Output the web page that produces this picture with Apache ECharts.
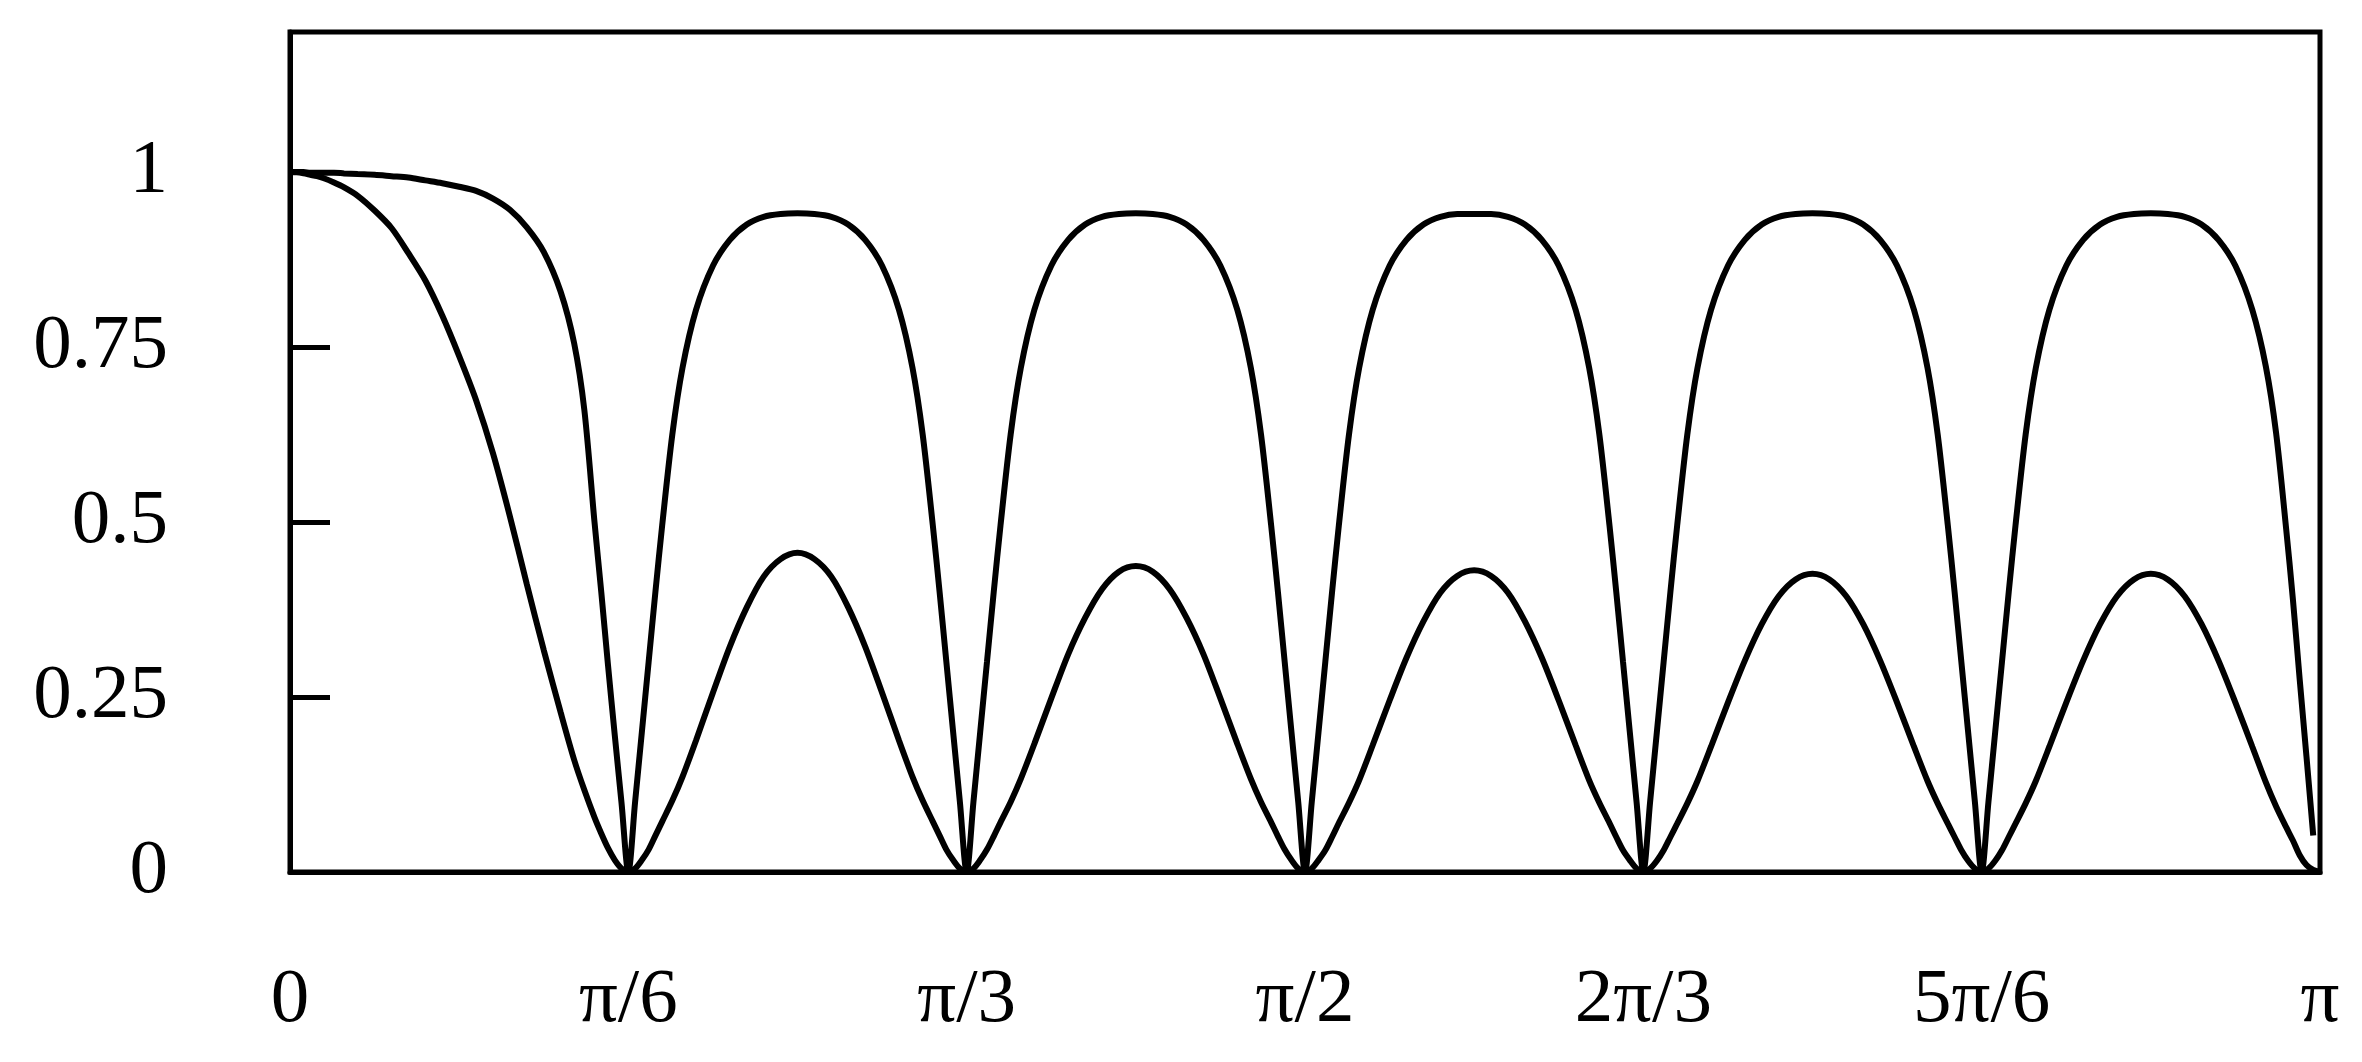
<!DOCTYPE html>
<html>
<head>
<meta charset="utf-8">
<script src="https://cdn.jsdelivr.net/npm/echarts@6/dist/echarts.min.js"></script>
<style>
html,body{margin:0;padding:0;background:#fff;}
#chart{width:2362px;height:1062px;}
</style>
</head>
<body>
<div id="chart"></div>
<script>
// x positions are in units of pi/6
const xTickLabels = ['0', 'π/6', 'π/3', 'π/2', '2π/3', '5π/6', 'π'];
const yTickLabels = ['0', '0.25', '0.5', '0.75', '1'];
const sampleOffsets = [0, 0.02, 0.04, 0.06, 0.08, 0.10, 0.13, 0.16, 0.20, 0.25, 0.30, 0.35, 0.40, 0.45,
  0.50, 0.55, 0.60, 0.65, 0.70, 0.75, 0.80, 0.84, 0.87, 0.90, 0.92, 0.94, 0.96, 0.98];

// upper curve (narrow dips), one row per pi/6 interval
const upperY = [
  1.000,1.000,1.000,0.999,0.999,0.999,0.999,0.998,0.997,0.996,0.994,0.992,0.988,0.984,0.979,0.973,0.962,0.946,0.921,0.886,0.829,0.755,0.660,0.500,0.400,0.295,0.195,0.098,
  0,0.100,0.200,0.300,0.400,0.495,0.625,0.720,0.803,0.866,0.903,0.925,0.936,0.940,0.941,0.940,0.936,0.925,0.903,0.866,0.803,0.720,0.625,0.495,0.400,0.300,0.200,0.100,
  0,0.100,0.200,0.300,0.400,0.495,0.625,0.720,0.803,0.866,0.903,0.925,0.936,0.940,0.941,0.940,0.936,0.925,0.903,0.866,0.803,0.720,0.625,0.495,0.400,0.300,0.200,0.100,
  0,0.100,0.200,0.300,0.400,0.495,0.625,0.720,0.803,0.866,0.903,0.925,0.936,0.940,0.940,0.940,0.936,0.925,0.903,0.866,0.803,0.720,0.625,0.495,0.400,0.300,0.200,0.100,
  0,0.100,0.200,0.300,0.400,0.495,0.625,0.720,0.803,0.866,0.903,0.925,0.936,0.940,0.941,0.940,0.936,0.925,0.903,0.866,0.803,0.720,0.625,0.495,0.400,0.300,0.200,0.100,
  0,0.100,0.200,0.300,0.400,0.495,0.625,0.720,0.803,0.866,0.903,0.925,0.936,0.940,0.941,0.940,0.936,0.925,0.903,0.866,0.803,0.722,0.628,0.490,0.389,0.275,0.165,0.052
];

// lower curve (rounded lobes)
const lowerY = [
  1.000,0.9995,0.998,0.996,0.994,0.991,0.985,0.978,0.966,0.945,0.920,0.884,0.845,0.795,0.737,0.674,0.598,0.508,0.411,0.317,0.228,0.160,0.117,0.078,0.055,0.034,0.017,0.005,
  0,0.005,0.017,0.032,0.052,0.072,0.102,0.136,0.188,0.256,0.322,0.378,0.422,0.447,0.456,0.447,0.422,0.378,0.322,0.256,0.188,0.136,0.102,0.072,0.052,0.032,0.017,0.005,
  0,0.005,0.017,0.032,0.051,0.071,0.100,0.133,0.183,0.248,0.311,0.363,0.404,0.429,0.437,0.429,0.404,0.363,0.311,0.248,0.183,0.133,0.100,0.071,0.051,0.032,0.017,0.005,
  0,0.005,0.017,0.031,0.050,0.070,0.099,0.131,0.181,0.245,0.306,0.358,0.399,0.423,0.431,0.423,0.399,0.358,0.306,0.245,0.181,0.131,0.099,0.070,0.050,0.031,0.017,0.005,
  0,0.005,0.016,0.031,0.050,0.069,0.098,0.130,0.179,0.242,0.302,0.354,0.394,0.418,0.426,0.418,0.394,0.354,0.302,0.242,0.179,0.130,0.098,0.069,0.050,0.031,0.016,0.005,
  0,0.005,0.016,0.031,0.050,0.069,0.098,0.130,0.179,0.242,0.302,0.354,0.394,0.418,0.426,0.418,0.394,0.354,0.302,0.242,0.179,0.128,0.094,0.064,0.045,0.024,0.010,0.003,
  0
];

const xs = [];
for (let k = 0; k < 6; k++) {
  for (const o of sampleOffsets) xs.push(+(k + o).toFixed(4));
}
xs.push(6);

const upperData = upperY.map((y, i) => [xs[i], y]);
const lowerData = lowerY.map((y, i) => [xs[i], y]);

const font = 'Liberation Serif';
const chart = echarts.init(document.getElementById('chart'), null, {renderer: 'canvas'});
chart.setOption({
  backgroundColor: '#ffffff',
  animation: false,
  grid: {
    left: 290, right: 42, top: 32, bottom: 190,
    show: true, borderColor: '#000', borderWidth: 5,
    containLabel: false, outerBoundsMode: 'none'
  },
  xAxis: {
    type: 'value', min: 0, max: 6, interval: 1,
    axisLine: {show: true, lineStyle: {color: '#000', width: 5}},
    axisTick: {show: false},
    splitLine: {show: false},
    axisLabel: {
      margin: 90, color: '#000', fontFamily: font, fontSize: 77,
      formatter: v => xTickLabels[Math.round(v)] ?? ''
    }
  },
  yAxis: {
    type: 'value', min: 0, max: 1.2, interval: 0.25,
    axisLine: {show: true, lineStyle: {color: '#000', width: 5}},
    axisTick: {show: true, inside: true, length: 40, lineStyle: {color: '#000', width: 5}},
    splitLine: {show: false},
    axisLabel: {
      margin: 122, color: '#000', fontFamily: font, fontSize: 77,
      padding: [0, 0, 20, 0], showMaxLabel: false,
      formatter: v => {
        const i = Math.round(v / 0.25);
        return Math.abs(v - i * 0.25) < 1e-6 && i < yTickLabels.length ? yTickLabels[i] : '';
      }
    }
  },
  series: [
    {type: 'line', data: upperData, showSymbol: false, smooth: 0.3,
     lineStyle: {color: '#000', width: 6}, z: 3},
    {type: 'line', data: lowerData, showSymbol: false, smooth: 0.3,
     lineStyle: {color: '#000', width: 6}, z: 3}
  ]
});
</script>
</body>
</html>
